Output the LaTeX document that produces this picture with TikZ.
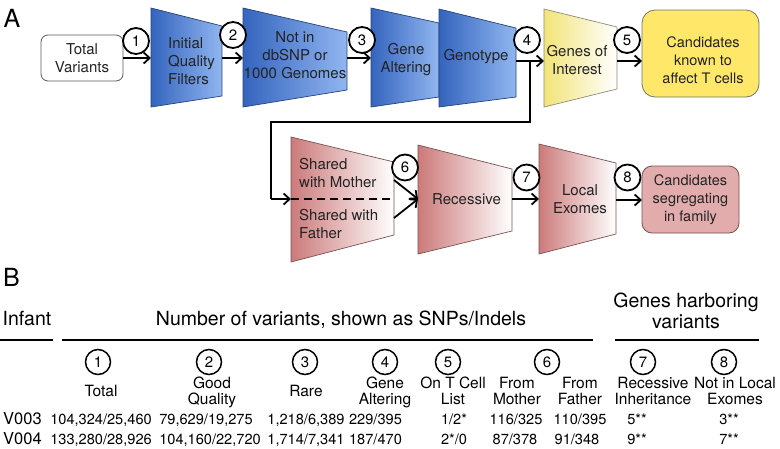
\documentclass[tikz,border=0pt]{standalone}
\usepackage{fontspec}
\setmainfont{TeX Gyre Heros}
\usetikzlibrary{arrows.meta}
\definecolor{bL}{RGB}{52,100,190}
\definecolor{bR}{RGB}{145,182,240}
\definecolor{bD}{RGB}{40,66,118}
\definecolor{yL}{RGB}{242,228,120}
\definecolor{yD}{RGB}{140,140,120}
\definecolor{pL}{RGB}{204,122,122}
\definecolor{pD}{RGB}{120,82,82}
\definecolor{yBox}{RGB}{255,232,105}
\definecolor{pBox}{RGB}{226,172,172}
\definecolor{txt}{RGB}{35,35,35}
\begin{document}
\begin{tikzpicture}[x=1pt,y=-1pt,
  ftext/.style={font=\fontsize{15}{18}\selectfont,text=txt,align=center,inner sep=0pt},
  btext/.style={font=\fontsize{14.5}{18}\selectfont,text=txt,align=center,inner sep=0pt},
  fnum/.style={circle,draw=black,line width=1.8pt,fill=white,minimum size=26pt,inner sep=0pt,font=\fontsize{15}{15}\selectfont},
  tnum/.style={circle,draw=black,line width=1.5pt,minimum size=25pt,inner sep=0pt,font=\fontsize{15}{15}\selectfont},
  flow/.style={line width=1.8pt,-{Straight Barb[length=6pt,width=11pt]}},
  btrap/.style={left color=bL,right color=bR,draw=bD,line width=0.7pt},
  ytrap/.style={left color=yL,right color=white,draw=yD,line width=0.7pt},
  ptrap/.style={left color=pL,middle color=pL!30!white,right color=white,draw=pD,line width=0.7pt},
  hdr/.style={font=\fontsize{19.5}{21}\selectfont,inner sep=0pt,align=center},
  col/.style={font=\fontsize{15.5}{16}\selectfont,inner sep=0pt,align=center},
  val/.style={font=\fontsize{14.6}{15}\selectfont,inner sep=0pt,anchor=base},
  rowlab/.style={font=\fontsize{16.5}{16.5}\selectfont,inner sep=0pt,anchor=base west},
  rule/.style={line width=1.6pt},
  panel/.style={font=\fontsize{25}{25}\selectfont,inner sep=0pt}
]
\useasboundingbox (0,0) rectangle (780,448);

% panel labels
\node[panel] (pa) at (12,18.5) {A};
\node[panel] (pb) at (11.5,277) {B};

% ---------- row 1 shapes ----------
\shadedraw[btrap] (151,8) -- (222,26) -- (222,96) -- (151,107) -- cycle;
\shadedraw[btrap] (243,8) -- (347,32) -- (347,90) -- (243,107) -- cycle;
\shadedraw[btrap] (371,8) -- (439,23) -- (439,97) -- (371,107) -- cycle;
\shadedraw[btrap] (439,9) -- (516,28) -- (516,97) -- (439,107) -- cycle;
\shadedraw[ytrap] (544,9) -- (617,27) -- (617,89) -- (544,107) -- cycle;

\node[draw=black!65,line width=0.8pt,fill=white,rounded corners=7pt,minimum width=82pt,minimum height=46pt,ftext] (tv) at (82,58) {Total\\Variants};
\node[draw=black!55,line width=0.8pt,fill=yBox,rounded corners=13pt,minimum width=117pt,minimum height=87pt,inner sep=0pt] (ybox) at (700.5,53.5) {};
\node[btext] (ytxt) at (703,60) {Candidates\\known to\\affect T cells};

\node[ftext,align=left,anchor=west] (t1txt) at (168,61) {Initial\\Quality\\Filters};
\node[ftext] (t2txt) at (295,55.5) {Not in\\dbSNP or\\1000 Genomes};
\node[ftext] (t3txt) at (406,59.5) {Gene\\Altering};
\node[ftext] (t4txt) at (476,57) {Genotype};
\node[ftext] (t5txt) at (577,60.5) {Genes of\\Interest};

% ---------- row 2 shapes ----------
\shadedraw[ptrap] (291,137) -- (394,162) -- (394,235) -- (291,262) -- cycle;
\shadedraw[ptrap] (418,145) -- (512,169) -- (512,231) -- (418,254) -- cycle;
\shadedraw[ptrap] (539,144) -- (616,163) -- (616,234) -- (539,254) -- cycle;
\node[draw=pD,line width=0.8pt,fill=pBox,rounded corners=10pt,minimum width=97pt,minimum height=67pt,btext] (pbox) at (690.5,199.5) {Candidates\\segregating\\in family};

\node[ftext,align=left,anchor=west] (t6a) at (299,172.8) {Shared\\with Mother};
\node[ftext,align=left,anchor=west] (t6b) at (299,224.5) {Shared with\\Father};
\node[ftext] (t7txt) at (466.5,199) {Recessive};
\node[ftext] (t8txt) at (580,199.5) {Local\\Exomes};

% ---------- connector coordinates ----------
\coordinate (t1w) at (151,58);
\coordinate (t1e) at (222,58);
\coordinate (t2w) at (243,58);
\coordinate (t2e) at (347,58);
\coordinate (t3w) at (371,58);
\coordinate (t4e) at (516,61);
\coordinate (t5w) at (544,61);
\coordinate (t5e) at (617,61);
\coordinate (yw) at (642,61);
\coordinate (j4) at (530,61);
\coordinate (k1) at (530,122);
\coordinate (k2) at (271,122);
\coordinate (k3) at (271,199);
\coordinate (t6w) at (291,199);
\coordinate (t6e) at (394,199);
\coordinate (t6m) at (394,180);
\coordinate (t6f) at (394,218);
\coordinate (t7w) at (418,199);
\coordinate (t7e) at (512,199);
\coordinate (t8w) at (539,199);
\coordinate (t8e) at (616,200);
\coordinate (pw) at (642,200);

% ---------- connectors ----------
\draw[flow] (tv.east) -- (t1w);
\draw[flow] (t1e) -- (t2w);
\draw[flow] (t2e) -- (t3w);
\draw[flow] (t4e) -- (t5w);
\draw[flow] (t5e) -- (yw);
\draw[line width=1.8pt] (j4) -- (k1) -- (k2) -- (k3);
\draw[flow] (k3) -- (t6w);
\draw[line width=1.5pt,dash pattern=on 8pt off 5pt] (t6w) -- (t6e);
\draw[flow] (t6m) -- (t7w);
\draw[flow] (t6f) -- (t7w);
\draw[flow] (t7e) -- (t8w);
\draw[flow] (t8e) -- (pw);

% ---------- numbered circles ----------
\node[fnum] (c1) at (136,41) {1};
\node[fnum] (c2) at (233,35) {2};
\node[fnum] (c3) at (362,40) {3};
\node[fnum] (c4) at (527,40) {4};
\node[fnum] (c5) at (627,40) {5};
\node[fnum] (c6) at (405,167.5) {6};
\node[fnum] (c7) at (526.5,177.5) {7};
\node[fnum] (c8) at (627.5,177.5) {8};

% ---------- table ----------
\node[hdr,anchor=base] (hinf) at (27,325) {Infant};
\node[hdr,anchor=base] (hnum) at (341,325) {Number of variants, shown as SNPs/Indels};
\node[hdr,anchor=base] (hgen1) at (686,307) {Genes harboring};
\node[hdr,anchor=base] (hgen2) at (686,328) {variants};
\coordinate (r1a) at (0,340); \coordinate (r1b) at (53,340);
\coordinate (r2a) at (62,340); \coordinate (r2b) at (593,340);
\coordinate (r3a) at (615,340); \coordinate (r3b) at (759,340);
\draw[rule] (r1a) -- (r1b);
\draw[rule] (r2a) -- (r2b);
\draw[rule] (r3a) -- (r3b);

\node[tnum] (n1) at (98,362) {1};
\node[tnum] (n2) at (209,362) {2};
\node[tnum] (n3) at (305,362) {3};
\node[tnum] (n4) at (385,362) {4};
\node[tnum] (n5) at (448,362) {5};
\node[tnum] (n6) at (547,362) {6};
\node[tnum] (n7) at (643,362) {7};
\node[tnum] (n8) at (724,362) {8};

\node[col] (l1) at (101,391) {Total};
\node[col] (l2) at (212,392.5) {Good\\Quality};
\node[col] (l3) at (306,391) {Rare};
\node[col] (l4) at (385,392.5) {Gene\\Altering};
\node[col] (l5) at (453,391) {On T Cell\\List};
\node[col] (l6a) at (517,391) {From\\Mother};
\node[col] (l6b) at (580,391) {From\\Father};
\node[col] (l7) at (653,391) {Recessive\\Inheritance};
\node[col] (l8) at (735,391) {Not in Local\\Exomes};

\node[rowlab] (v3) at (3,424.5) {V003};
\node[rowlab] (v4) at (3,444.5) {V004};

\node[val] (a1) at (101,424.5) {104,324/25,460};
\node[val] (a2) at (206,424.5) {79,629/19,275};
\node[val] (a3) at (306,424.5) {1,218/6,389};
\node[val] (a4) at (375.5,424.5) {229/395};
\node[val] (a5) at (454,424.5) {1/2*};
\node[val] (a6) at (516,424.5) {116/325};
\node[val] (a7) at (580,424.5) {110/395};
\node[val] (a8) at (637,424.5) {5**};
\node[val] (a9) at (729,424.5) {3**};

\node[val] (b1) at (101,444.5) {133,280/28,926};
\node[val] (b2) at (210,444.5) {104,160/22,720};
\node[val] (b3) at (306,444.5) {1,714/7,341};
\node[val] (b4) at (375.5,444.5) {187/470};
\node[val] (b5) at (454,444.5) {2*/0};
\node[val] (b6) at (515,444.5) {87/378};
\node[val] (b7) at (577,444.5) {91/348};
\node[val] (b8) at (637,444.5) {9**};
\node[val] (b9) at (729,444.5) {7**};
\end{tikzpicture}
\end{document}
